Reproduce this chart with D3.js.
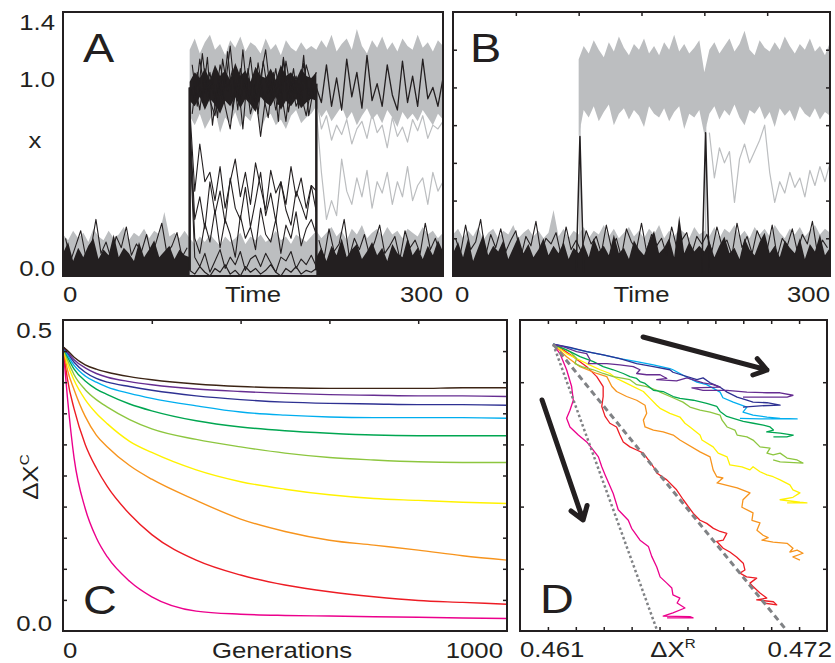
<!DOCTYPE html>
<html>
<head>
<meta charset="utf-8">
<script src="https://cdn.jsdelivr.net/npm/d3@7"></script>
<style>
body { margin: 0; background: #fff; }
text { font-family: "Liberation Sans", Arial, sans-serif; fill: #231f20; }
</style>
</head>
<body>
<script>
// ---------- data ----------
const step = 4   // time step of the traces in A and B

// panel A (values of x, traces start at t0 and go on every `step`)
const aGrayLowTop = [.22,.19,.24,.2,.23,.18,.25,.21,.19,.24,.2,.22,.26,.19,.23,.21,.25,.2,.24,.22,.34,.21,.23,.2,.24,
  .2,.17,.21,.18,.22,.19,.16,.21,.18,.2,.23,.17,.21,.19,.22,.18,.2,.24,.19,.21,.17,.22,.2,.18,.21,
  .24,.2,.23,.26,.21,.24,.19,.25,.22,.27,.2,.23,.25,.21,.26,.22,.24,.2,.25,.23,.21,.26,.22,.24,.2,.23]
const aGrayHiTop = [1.2,1.26,1.18,1.24,1.28,1.2,1.23,1.17,1.25,1.21,1.27,1.19,1.24,1.22,1.18,1.26,1.2,1.23,1.17,1.25,1.21,1.19,1.24,1.2,1.22,
  1.2,1.25,1.21,1.28,1.19,1.23,1.26,1.2,1.31,1.22,1.18,1.25,1.21,1.27,1.2,1.24,1.19,1.26,1.22,1.2,1.28,1.21,1.24,1.19,1.25,1.22]
const aGrayHiBot = [.85,.8,.86,.78,.83,.88,.76,.84,.81,.87,.79,.85,.82,.9,.77,.84,.86,.8,.83,.78,.85,.88,.81,.84,.86,
  .9,.84,.88,.82,.86,.9,.83,.87,.8,.85,.89,.83,.86,.81,.88,.84,.79,.87,.83,.86,.82,.88,.84,.8,.86,.83]
const aGrayLine1 = [.95,.78,.85,.72,.8,.75,.83,.7,.78,.82,.73,.86,.76,.8,.68,.84,.74,.79,.71,.83,.77,.85,.73,.8,.78,.82]
const aGrayLine2 = [.88,.55,.3,.4,.32,.62,.45,.38,.52,.42,.56,.36,.5,.44,.55,.38,.5,.42,.58,.4,.48,.52,.38,.55,.45,.5]
const aBlackLow1 = [.12,.18,.08,.15,.1,.16,.2,.09,.14,.11,.22,.1,.15,.12,.08,.18,.1,.14,.19,.1,.13,.16,.09,.14,.11,.1]
const aBlackLow2 = [.1,.15,.08,.16,.11,.2,.1,.14,.17,.09,.13,.18,.11,.15,.08,.17,.12,.1,.2,.11,.15,.09,.16,.11,.19,.13]
const aBlackFine1 = [.2,.08,.16,.24,.1,.14,.3,.12,.18,.09,.21,.15,.26,.11,.17,.13,.22,.1,.19,.28,.12,.16,.23,.1,.15]
const aBlackFine2 = [.19,.09,.25,.13,.17,.3,.1,.2,.14,.22,.11,.18,.27,.12,.16,.21,.09,.24,.15,.19,.12,.28,.14,.2,.11]
const aBlackBase = [.03,.01,.05,.02,0,.04,.02,.06,.01,.03,0,.05,.02,.04,.01,.03,.06,.02,0,.04,.02,.05,.01,.03,.02,.04]
const aBlackHiTop = [1.03,1.08,1.05,1.1,1.04,1.12,1.06,1.09,1.04,1.13,1.06,1.09,1.03,1.11,1.06,1.05,1.1,1.04,1.12,1.06,1.08,1.04,1.1,1.06,1.05,1.08]
const aBlackHiBot = [.93,.9,.95,.88,.94,.91,.86,.93,.9,.95,.89,.94,.91,.87,.95,.92,.9,.95,.88,.93,.9,.94,.89,.92,.94,.93]
const aBlackHi1 = [.95,1.02,.88,1.1,.93,.85,1.05,.9,.78,1.0,.92,1.08,.86,.97,.74,.95,1.03,.88,.99,.82,1.06,.9,.96,.85,1.0,.92]
const aBlackHi2 = [1.0,.92,1.15,.97,1.08,.9,1.12,1.0,1.22,.95,1.1,.98,1.16,.92,1.05,1.2,.96,1.1,.9,1.14,.98,1.06,.93,1.12,1.02,1.08]
const aBlackHi3 = [1.12,.9,1.18,.95,1.06,.84,1.15,.98,1.1,.88,1.2,.93,1.04,.86,1.14,.97,1.08,.82,1.16,.94,1.1,.89,1.13,.96,1.05]
const aBlackHi4 = [.86,1.08,.92,1.16,.8,1.02,.94,1.19,.88,1.05,.78,1.1,.9,1.13,.96,.84,1.07,.91,1.15,.87,1.02,.93,1.17,.85,1.0]
const aMid1 = [.9,.45,.7,.5,.55,.4,.58,.36,.5,.62,.42,.55,.38,.6,.47,.35,.56,.44,.5,.38,.58,.42,.52,.36,.48,.45]
const aMid2 = [.85,.3,.42,.25,.5,.33,.45,.28,.52,.36,.3,.47,.26,.4,.55,.32,.44,.29,.5,.35,.27,.45,.38,.3,.48,.34]
const aMid3 = [.8,.2,.12,.28,.18,.35,.15,.3,.22,.1,.32,.2,.26,.14,.36,.22,.18,.3,.12,.27,.2,.34,.16,.25,.3,.22]
const aMid4 = [.75,.1,.05,.12,.02,.08,.14,.04,.1,.06,.13,.03,.09,.11,.05,.12,.07,.02,.1,.08,.13,.04,.09,.06,.11,.05]
const aBlackAfter = [1.0,.92,1.12,.9,1.05,.88,1.15,.95,1.08,.89,1.17,.93,1.02,.9,1.12,.96,.88,1.14,.92,1.06,.9,1.15,.94,1.0,.9,1.05]
const aJumps = [[[100,0.03],[100,1.0]], [[200,1.02],[200,0.03]]]

// panel B
const bGrayLowTop = [.22,.25,.2,.24,.21,.26,.19,.23,.25,.2,.24,.22,.27,.2,.23,.25,.21,.24,.2,.23,.35,.21,.25,.2,.24,
  .22,.26,.2,.24,.22,.27,.21,.25,.2,.23,.26,.21,.24,.2,.25,.22,.27,.2,.24,.21,.25,.23,.2,.26,.22,
  .24,.21,.26,.2,.25,.23,.27,.21,.24,.2,.26,.22,.25,.21,.27,.23,.2,.25,.22,.26,.21,.24,.27,.22,.25,.23]
const bBlackLowTop = [.12,.18,.1,.2,.08,.15,.22,.11,.16,.13,.19,.09,.15,.21,.12,.17,.1,.14,.2,.11,.16,.12,.18,.09,.15,
  .12,.17,.1,.2,.13,.16,.11,.22,.12,.15,.09,.19,.14,.11,.18,.24,.12,.15,.2,.1,.32,.12,.18,.13,.16,
  .13,.18,.1,.16,.21,.12,.15,.09,.2,.14,.11,.18,.23,.12,.16,.1,.19,.15,.12,.2,.09,.17,.13,.22,.11,.15]
const bBlackFine = [.2,.12,.27,.14,.18,.3,.11,.22,.15,.25,.13,.19,.24,.1,.21,.16,.29,.12,.2,.17,.23,.11,.26,.14,.19,
  .13,.24,.17,.21,.12,.27,.15,.2,.1,.25,.18,.14,.28,.13,.22,.16,.2,.11,.26,.15,.19,.23,.12,.21,.17,
  .22,.13,.26,.16,.19,.11,.28,.15,.21,.12,.24,.18,.14,.27,.1,.2,.16,.25,.13,.22,.17,.29,.12,.19,.15]
const bGrayHiTop = [1.15,1.22,1.18,1.25,1.2,1.16,1.24,1.19,1.27,1.21,1.17,1.23,1.2,1.26,1.18,1.22,1.17,1.24,1.2,1.28,1.19,1.23,1.18,1.21,1.25,
  1.08,1.2,1.24,1.18,1.22,1.26,1.19,1.23,1.3,1.2,1.17,1.25,1.21,1.19,1.24,1.2,1.27,1.22,1.18,1.23,1.2,1.26,1.19,1.22,1.17,1.24]
const bGrayHiBot = [.74,.88,.84,.9,.82,.87,.91,.8,.86,.89,.83,.88,.85,.79,.9,.86,.84,.89,.82,.87,.9,.78,.86,.84,.88,
  .75,.86,.9,.83,.88,.85,.91,.84,.8,.88,.86,.9,.83,.87,.79,.89,.85,.88,.82,.9,.86,.84,.89,.83,.87,.85]
const bGrayMid = [.76,.52,.68,.6,.66,.39,.62,.7,.6,.66,.72,.8,.55,.39,.5,.44,.55,.47,.52,.42,.56,.48,.58,.5,.6]
const bGrayJumps = [[[101,0.02],[101,0.8]], [[201,0.02],[201,0.8]]]
const bSpikes = [[[98,0.02],[101,0.74],[104,0.02]], [[198,0.02],[201,0.76],[204,0.02]]]

// panel C: Delta X^C against generations
const gens = [0,10,25,50,75,100,150,200,300,400,500,600,700,800,900,1000]
const cPink   = [.457,.375,.278,.197,.150,.119,.080,.055,.032,.027,.025,.024,.023,.022,.021,.020]
const cRed    = [.457,.405,.357,.300,.262,.232,.188,.155,.114,.090,.074,.063,.055,.049,.046,.043]
const cOrange = [.457,.420,.388,.345,.315,.296,.266,.244,.210,.180,.160,.146,.138,.130,.121,.114]
const cYellow = [.457,.430,.403,.372,.350,.333,.305,.287,.259,.240,.228,.219,.213,.210,.207,.205]
const cLgreen = [.457,.436,.412,.388,.372,.360,.340,.325,.308,.296,.286,.279,.275,.272,.271,.271]
const cGreen  = [.457,.441,.421,.402,.389,.380,.365,.354,.338,.328,.322,.318,.315,.314,.314,.314]
const cCyan   = [.457,.444,.427,.410,.400,.392,.382,.374,.362,.352,.347,.344,.343,.343,.343,.342]
const cDblue  = [.457,.447,.432,.416,.406,.400,.393,.387,.378,.372,.368,.366,.365,.364,.364,.363]
const cPurple = [.457,.449,.436,.423,.414,.408,.401,.396,.389,.385,.382,.380,.379,.378,.378,.377]
const cBrown  = [.457,.451,.440,.428,.421,.416,.409,.404,.397,.393,.391,.390,.390,.390,.391,.391]

// panel D: [Delta X^R, Delta X^C]
const dPink = [[0.46219,0.461],[0.46243,0.446],[0.46267,0.420],[0.46285,0.393],[0.46291,0.371],[0.46279,0.355],[0.46267,0.342],[0.46279,0.328],[0.46309,0.315],[0.46339,0.304],[0.46357,0.294],[0.46381,0.280],[0.46393,0.264],[0.46405,0.251],[0.46434,0.221],[0.46452,0.195],[0.46488,0.178],[0.46500,0.165],[0.46530,0.146],[0.46560,0.136],[0.46572,0.120],[0.46590,0.103],[0.46602,0.087],[0.46626,0.077],[0.46644,0.069],[0.46648,0.058],[0.46673,0.053],[0.46663,0.045],[0.46691,0.037],[0.46648,0.029],[0.46613,0.024],[0.46709,0.023],[0.46720,0.021],[0.46627,0.021]]
const dRed = [[0.46219,0.461],[0.46255,0.452],[0.46291,0.441],[0.46339,0.425],[0.46375,0.409],[0.46398,0.393],[0.46398,0.377],[0.46393,0.361],[0.46405,0.345],[0.46422,0.334],[0.46446,0.328],[0.46458,0.315],[0.46470,0.304],[0.46494,0.296],[0.46518,0.291],[0.46542,0.286],[0.46560,0.275],[0.46578,0.264],[0.46590,0.254],[0.46626,0.243],[0.46661,0.227],[0.46685,0.211],[0.46721,0.189],[0.46745,0.178],[0.46769,0.173],[0.46793,0.165],[0.46817,0.160],[0.46841,0.157],[0.46828,0.146],[0.46805,0.144],[0.46828,0.133],[0.46852,0.127],[0.46876,0.119],[0.46900,0.109],[0.46906,0.098],[0.46888,0.093],[0.46912,0.087],[0.46948,0.085],[0.46924,0.077],[0.46936,0.071],[0.46960,0.061],[0.46984,0.053],[0.46948,0.050],[0.47008,0.047],[0.47020,0.042],[0.46972,0.045]]
const dOrange = [[0.46219,0.461],[0.46267,0.441],[0.46315,0.425],[0.46375,0.414],[0.46411,0.409],[0.46429,0.393],[0.46446,0.385],[0.46482,0.377],[0.46518,0.371],[0.46548,0.363],[0.46554,0.350],[0.46542,0.339],[0.46548,0.328],[0.46578,0.323],[0.46613,0.320],[0.46649,0.315],[0.46673,0.307],[0.46745,0.288],[0.46781,0.280],[0.46792,0.259],[0.46805,0.248],[0.46827,0.246],[0.46806,0.238],[0.46878,0.230],[0.46924,0.222],[0.46899,0.211],[0.46895,0.199],[0.46935,0.190],[0.46931,0.178],[0.46960,0.174],[0.46949,0.162],[0.46971,0.154],[0.46989,0.150],[0.46967,0.146],[0.47007,0.143],[0.47057,0.141],[0.47078,0.133],[0.47067,0.127],[0.47093,0.130],[0.47114,0.125],[0.47078,0.119],[0.47103,0.114]]
const dYellow = [[0.46219,0.461],[0.46267,0.446],[0.46303,0.438],[0.46339,0.430],[0.46387,0.420],[0.46422,0.414],[0.46446,0.406],[0.46470,0.401],[0.46506,0.393],[0.46542,0.385],[0.46566,0.374],[0.46590,0.363],[0.46602,0.358],[0.46637,0.350],[0.46673,0.344],[0.46691,0.334],[0.46709,0.328],[0.46745,0.315],[0.46752,0.307],[0.46792,0.296],[0.46810,0.286],[0.46842,0.280],[0.46852,0.267],[0.46895,0.264],[0.46924,0.259],[0.46935,0.264],[0.46960,0.256],[0.46985,0.251],[0.47007,0.248],[0.47032,0.243],[0.47067,0.235],[0.47078,0.227],[0.47103,0.222],[0.47078,0.215],[0.47032,0.211],[0.47103,0.207],[0.47128,0.206],[0.47057,0.206]]
const dLgreen = [[0.46219,0.461],[0.46279,0.449],[0.46303,0.438],[0.46297,0.430],[0.46321,0.425],[0.46363,0.420],[0.46398,0.414],[0.46434,0.409],[0.46470,0.406],[0.46494,0.404],[0.46518,0.396],[0.46554,0.393],[0.46590,0.387],[0.46602,0.384],[0.46648,0.375],[0.46684,0.368],[0.46709,0.360],[0.46745,0.355],[0.46781,0.352],[0.46817,0.347],[0.46824,0.339],[0.46842,0.328],[0.46870,0.323],[0.46878,0.315],[0.46913,0.312],[0.46935,0.307],[0.46960,0.296],[0.46996,0.294],[0.46985,0.286],[0.47007,0.283],[0.47032,0.286],[0.47057,0.278],[0.47093,0.275],[0.47114,0.270],[0.47032,0.272],[0.47007,0.275]]
const dGreen = [[0.46219,0.461],[0.46267,0.452],[0.46315,0.441],[0.46363,0.433],[0.46398,0.425],[0.46434,0.420],[0.46470,0.414],[0.46494,0.409],[0.46518,0.406],[0.46530,0.401],[0.46548,0.398],[0.46578,0.387],[0.46613,0.385],[0.46649,0.377],[0.46673,0.374],[0.46721,0.371],[0.46769,0.366],[0.46805,0.361],[0.46817,0.353],[0.46841,0.345],[0.46864,0.342],[0.46900,0.337],[0.46936,0.334],[0.46972,0.331],[0.46996,0.328],[0.47008,0.323],[0.46984,0.320],[0.47032,0.318],[0.47079,0.315],[0.47056,0.312],[0.47008,0.312]]
const dCyan = [[0.46219,0.461],[0.46279,0.455],[0.46339,0.449],[0.46398,0.444],[0.46458,0.438],[0.46518,0.433],[0.46578,0.428],[0.46637,0.422],[0.46648,0.420],[0.46698,0.408],[0.46734,0.400],[0.46769,0.396],[0.46817,0.384],[0.46827,0.375],[0.46864,0.368],[0.46913,0.360],[0.46899,0.352],[0.46935,0.347],[0.46985,0.344],[0.47032,0.342],[0.47093,0.341],[0.46960,0.341],[0.46888,0.342]]
const dDblue = [[0.46219,0.461],[0.46279,0.456],[0.46339,0.449],[0.46398,0.444],[0.46458,0.438],[0.46518,0.430],[0.46578,0.425],[0.46637,0.420],[0.46648,0.416],[0.46734,0.404],[0.46756,0.407],[0.46781,0.399],[0.46817,0.392],[0.46842,0.384],[0.46878,0.376],[0.46913,0.371],[0.46935,0.368],[0.46985,0.367],[0.47032,0.363],[0.46960,0.362],[0.46899,0.360]]
const dPurple = [[0.46219,0.461],[0.46255,0.457],[0.46303,0.449],[0.46339,0.446],[0.46351,0.436],[0.46345,0.430],[0.46375,0.430],[0.46411,0.430],[0.46458,0.428],[0.46506,0.425],[0.46530,0.420],[0.46518,0.414],[0.46554,0.412],[0.46602,0.412],[0.46626,0.406],[0.46590,0.404],[0.46661,0.402],[0.46698,0.407],[0.46756,0.399],[0.46792,0.396],[0.46817,0.392],[0.46716,0.391],[0.46756,0.387],[0.46842,0.387],[0.46913,0.384],[0.46985,0.383],[0.47032,0.383],[0.47078,0.379],[0.47057,0.376],[0.46960,0.376],[0.46899,0.376]]
const dDotted = [[0.46219,0.461],[0.46592,0]]
const dDashed = [[0.46219,0.461],[0.47057,0]]
const dArrows = [{from: [0.46541,0.4727], to: [0.46985,0.4196]}, {from: [0.46179,0.3714], to: [0.46326,0.1785]}]

const colors = {pink: "#ec008c", red: "#ed1c24", orange: "#f7941d", yellow: "#fff200", lgreen: "#8dc63f",
  green: "#00a651", cyan: "#00aeef", dblue: "#2e3192", purple: "#662d91", brown: "#3c2415"}

// ---------- drawing ----------
const ink = "#231f20"
const grey = "#bcbec0"
const svg = d3.select("body").append("svg").attr("width", 835).attr("height", 663)

const boxA = {x0: 63, y0: 12, x1: 443, y1: 276}
const boxB = {x0: 453, y0: 12, x1: 830, y1: 276}
const boxC = {x0: 63, y0: 320, x1: 507, y1: 631}
const boxD = {x0: 520, y0: 320, x1: 827, y1: 631}

const xA = d3.scaleLinear().domain([0, 300]).range([boxA.x0, boxA.x1])
const yA = d3.scaleLinear().domain([0, 1.4]).range([boxA.y1, boxA.y0])
const xB = d3.scaleLinear().domain([0, 300]).range([boxB.x0, boxB.x1])
const yB = d3.scaleLinear().domain([0, 1.4]).range([boxB.y1, boxB.y0])
const xC = d3.scaleLinear().domain([0, 1000]).range([boxC.x0, boxC.x1])
const yC = d3.scaleLinear().domain([0, 0.5]).range([boxC.y1, boxC.y0])
const xD = d3.scaleLinear().domain([0.461, 0.472]).range([boxD.x0, boxD.x1])
const yD = d3.scaleLinear().domain([0, 0.5]).range([boxD.y1, boxD.y0])

const pts = (t0, v) => v.map((d, i) => [t0 + i * step, d])
const band = (t0, lo, hi) => hi.map((d, i) => [t0 + i * step, lo ? lo[i] : 0, d])

const makePanel = (id, b) => {
  svg.append("clipPath").attr("id", id).append("rect")
    .attr("x", b.x0).attr("y", b.y0).attr("width", b.x1 - b.x0).attr("height", b.y1 - b.y0)
  return svg.append("g").attr("clip-path", `url(#${id})`)
}

const drawArea = (g, data, x, y, fill) => g.append("path").datum(data)
  .attr("d", d3.area().x(d => x(d[0])).y0(d => y(d[1])).y1(d => y(d[2])))
  .attr("fill", fill)

const drawLine = (g, data, x, y, stroke, w, curve) => g.append("path").datum(data)
  .attr("d", d3.line().x(d => x(d[0])).y(d => y(d[1])).curve(curve || d3.curveLinear))
  .attr("fill", "none").attr("stroke", stroke).attr("stroke-width", w)
  .attr("stroke-linejoin", "round")

const ticks = (axis, tr) => svg.append("g").attr("transform", tr)
  .call(axis.tickSize(-4).tickFormat(""))
  .call(g => g.select(".domain").remove())
  .call(g => g.selectAll("line").attr("stroke", ink).attr("stroke-width", 1.5))

const frame = b => svg.append("rect").attr("x", b.x0).attr("y", b.y0)
  .attr("width", b.x1 - b.x0).attr("height", b.y1 - b.y0)
  .attr("fill", "none").attr("stroke", ink).attr("stroke-width", 2)

const label = (txt, x, y, anchor, size, rot) => svg.append("text")
  .attr("transform", `translate(${x},${y}) rotate(${rot || 0}) scale(1.17,1)`)
  .attr("text-anchor", anchor).style("font-size", size + "px").text(txt)

// Panel A
const gA = makePanel("clipA", boxA)
drawArea(gA, band(0, null, aGrayLowTop), xA, yA, grey)
drawArea(gA, band(100, aGrayHiBot, aGrayHiTop), xA, yA, grey)
drawLine(gA, pts(200, aGrayLine1), xA, yA, grey, 1.2)
drawLine(gA, pts(200, aGrayLine2), xA, yA, grey, 1.2)
drawArea(gA, band(0, null, aBlackLow1), xA, yA, ink)
drawArea(gA, band(200, null, aBlackLow2), xA, yA, ink)
drawLine(gA, pts(2, aBlackFine1), xA, yA, ink, 1.1)
drawLine(gA, pts(202, aBlackFine2), xA, yA, ink, 1.1)
drawLine(gA, pts(100, aBlackBase), xA, yA, ink, 1.2)
drawArea(gA, band(100, aBlackHiBot, aBlackHiTop), xA, yA, ink)
;[aBlackHi1, aBlackHi2, aMid1, aMid2, aMid3, aMid4].forEach(s => drawLine(gA, pts(100, s), xA, yA, ink, 1.1))
;[aBlackHi3, aBlackHi4].forEach(s => drawLine(gA, pts(102, s), xA, yA, ink, 1.1))
drawLine(gA, pts(200, aBlackAfter), xA, yA, ink, 1.3)
aJumps.forEach(s => drawLine(gA, s, xA, yA, ink, 2.5))

// Panel B
const gB = makePanel("clipB", boxB)
drawArea(gB, band(0, null, bGrayLowTop), xB, yB, grey)
drawArea(gB, band(100, bGrayHiBot, bGrayHiTop), xB, yB, grey)
drawLine(gB, pts(204, bGrayMid), xB, yB, grey, 1.2)
bGrayJumps.forEach(s => drawLine(gB, s, xB, yB, grey, 1.5))
drawArea(gB, band(0, null, bBlackLowTop), xB, yB, ink)
drawLine(gB, pts(2, bBlackFine), xB, yB, ink, 1.1)
bSpikes.forEach(s => drawLine(gB, s, xB, yB, ink, 1.5))

// Panel C
const gC = makePanel("clipC", boxC)
const cSeries = [[cPink, "pink"], [cRed, "red"], [cOrange, "orange"], [cYellow, "yellow"], [cLgreen, "lgreen"],
  [cGreen, "green"], [cCyan, "cyan"], [cDblue, "dblue"], [cPurple, "purple"], [cBrown, "brown"]]
cSeries.forEach(([v, c]) => drawLine(gC, gens.map((g, i) => [g, v[i]]), xC, yC, colors[c], 1.4, d3.curveMonotoneX))

// Panel D
const gD = makePanel("clipD", boxD)
const dSeries = [[dPink, "pink"], [dRed, "red"], [dOrange, "orange"], [dYellow, "yellow"], [dLgreen, "lgreen"],
  [dGreen, "green"], [dCyan, "cyan"], [dDblue, "dblue"], [dPurple, "purple"]]
dSeries.forEach(([v, c]) => drawLine(gD, v, xD, yD, colors[c], 1.3))
drawLine(gD, dDotted, xD, yD, "#808285", 2.5).attr("stroke-dasharray", "2.5,2.5")
drawLine(gD, dDashed, xD, yD, "#808285", 3).attr("stroke-dasharray", "6,4")
dArrows.forEach(a => {
  const x1 = xD(a.from[0]), y1 = yD(a.from[1]), x2 = xD(a.to[0]), y2 = yD(a.to[1])
  const ang = Math.atan2(y2 - y1, x2 - x1), L = 15, s = 0.6
  const p = d3.path()
  p.moveTo(x1, y1); p.lineTo(x2, y2)
  p.moveTo(x2 - L * Math.cos(ang - s), y2 - L * Math.sin(ang - s))
  p.lineTo(x2, y2)
  p.lineTo(x2 - L * Math.cos(ang + s), y2 - L * Math.sin(ang + s))
  svg.append("path").attr("d", p.toString()).attr("fill", "none").attr("stroke", ink)
    .attr("stroke-width", 5).attr("stroke-linecap", "round").attr("stroke-linejoin", "round")
})

// ticks
ticks(d3.axisTop(xB).tickValues([50, 100, 150, 200, 250]), `translate(0,${boxB.y0})`)
ticks(d3.axisLeft(yB).tickValues([.2, .4, .6, .8, 1.0, 1.2]), `translate(${boxB.x0},0)`)
ticks(d3.axisRight(yB).tickValues([.2, .4, .6, .8, 1.0, 1.2]), `translate(${boxB.x1},0)`)
const cTicksY = [.05, .1, .15, .2, .25, .3, .35, .4, .45]
ticks(d3.axisTop(xC).tickValues([200, 400, 600, 800]), `translate(0,${boxC.y0})`)
ticks(d3.axisLeft(yC).tickValues(cTicksY), `translate(${boxC.x0},0)`)
ticks(d3.axisRight(yC).tickValues(cTicksY), `translate(${boxC.x1},0)`)
const dTicksX = [.462, .463, .464, .465, .466, .467, .468, .469, .470, .471]
ticks(d3.axisTop(xD).tickValues(dTicksX), `translate(0,${boxD.y0})`)
ticks(d3.axisBottom(xD).tickValues(dTicksX), `translate(0,${boxD.y1})`)
ticks(d3.axisLeft(yD).tickValues([.1, .2, .3, .4]), `translate(${boxD.x0},0)`)
ticks(d3.axisRight(yD).tickValues([.1, .2, .3, .4]), `translate(${boxD.x1},0)`)

;[boxA, boxB, boxC, boxD].forEach(frame)

// labels
const f1 = d3.format(".1f"), f3 = d3.format(".3f")
;[0, 1.0, 1.4].forEach(v => label(f1(v), 55, Math.max(yA(v), boxA.y0 + 18), "end", 22))
;[0, 0.5].forEach(v => label(f1(v), 52, Math.max(yC(v), boxC.y0 + 18), "end", 22))
label("x", 35, 148, "middle", 22)

label("0", xA(0), boxA.y1 + 26, "start", 22)
label("Time", (boxA.x0 + boxA.x1) / 2, boxA.y1 + 26, "middle", 22)
label("300", xA(300), boxA.y1 + 26, "end", 22)
label("0", xB(0) + 2, boxB.y1 + 26, "start", 22)
label("Time", (boxB.x0 + boxB.x1) / 2, boxB.y1 + 26, "middle", 22)
label("300", xB(300), boxB.y1 + 26, "end", 22)
label("0", xC(0), boxC.y1 + 27, "start", 22)
label("Generations", 282, boxC.y1 + 27, "middle", 22)
label("1000", xC(1000) - 4, boxC.y1 + 27, "end", 22)
label(f3(0.461), xD(0.461), boxD.y1 + 26, "start", 22)
label(f3(0.472), xD(0.472) + 5, boxD.y1 + 26, "end", 22)

const dxc = label("ΔX", 38, 477, "middle", 22, -90)
dxc.append("tspan").attr("dy", -9).style("font-size", "13px").text("C")
const dxr = label("ΔX", 673, 657, "middle", 22)
dxr.append("tspan").attr("dy", -9).style("font-size", "13px").text("R")

label("A", 83, 62, "start", 40)
label("B", 470, 62, "start", 40)
label("C", 83, 614, "start", 40)
label("D", 540, 613, "start", 40)
</script>
</body>
</html>
